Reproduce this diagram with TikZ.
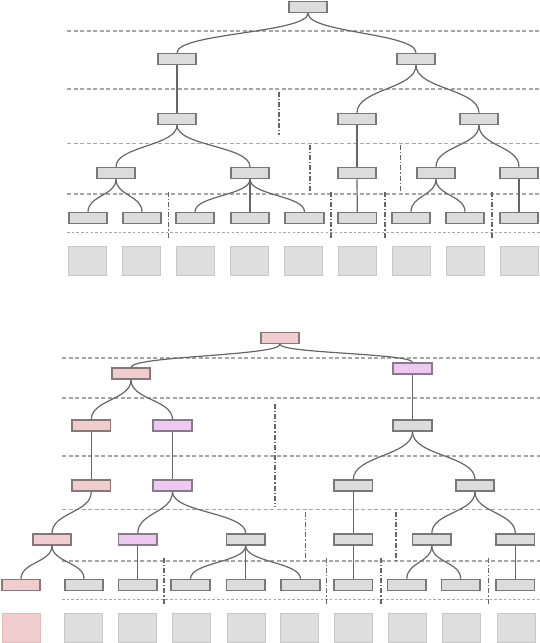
\documentclass[tikz,border=0pt]{standalone}
\usetikzlibrary{calc}
\definecolor{nodefill}{HTML}{DCDCDC}
\definecolor{nodeline}{HTML}{787878}
\definecolor{pinkfill}{HTML}{F0CCCE}
\definecolor{pinkline}{HTML}{887779}
\definecolor{violetfill}{HTML}{EEC8F0}
\definecolor{violetline}{HTML}{887A88}
\definecolor{sqfill}{HTML}{DEDEDE}
\definecolor{sqline}{HTML}{C8C8C8}
\definecolor{psqfill}{HTML}{F2CDCE}
\definecolor{psqline}{HTML}{E0BBBC}
\definecolor{guide}{HTML}{A6A6A6}
\definecolor{sepc}{HTML}{666666}
\definecolor{edgec}{HTML}{666666}
\begin{document}
\begin{tikzpicture}[x=1pt,y=-1pt,
 nd/.style={rectangle,draw=nodeline,fill=nodefill,line width=1.7pt,minimum width=38.5pt,minimum height=10.8pt,inner sep=0pt},
 ndp/.style={nd,draw=pinkline,fill=pinkfill},
 ndv/.style={nd,draw=violetline,fill=violetfill},
 sq/.style={rectangle,draw=sqline,fill=sqfill,line width=0.9pt,minimum width=38pt,minimum height=29pt,inner sep=0pt},
 sqp/.style={sq,draw=psqline,fill=psqfill},
 guideline/.style={draw=guide,line width=1.6pt,dash pattern=on 4pt off 2.5pt},
 guidefine/.style={draw=guide,line width=1.5pt,dash pattern=on 2.5pt off 2.2pt},
 sepline/.style={draw=sepc,line width=1.1pt,dash pattern=on 5pt off 2pt on 1.2pt off 2pt},
 edg/.style={draw=edgec,line width=1.2pt},
 sc/.style={to path={.. controls ($(\tikztostart)!0.5!(\tikztostart|-\tikztotarget)$) and ($(\tikztotarget)!0.5!(\tikztotarget|-\tikztostart)$) .. (\tikztotarget)}}
]
\useasboundingbox (0,0) rectangle (540,643);

% ---------- guide lines (top) ----------
\foreach \yy in {30.7,89,143.3,194} \draw[guideline] (67,\yy) -- (540,\yy);
\draw[guidefine] (67,232.7) -- (540,232.7);
\draw[sepline] (279,92) -- (279,135);
\foreach \xx in {310,400.3} \draw[sepline] (\xx,145) -- (\xx,192.7);
\foreach \xx in {168.3,331,385,492} \draw[sepline] (\xx,191.7) -- (\xx,237.7);

% ---------- guide lines (bottom) ----------
\foreach \yy in {357.7,397.7,455.7,509.3,560.7} \draw[guideline] (62,\yy) -- (540,\yy);
\draw[guidefine] (62,599.3) -- (540,599.3);
\draw[sepline] (275,404) -- (275,507);
\foreach \xx in {305.7,396} \draw[sepline] (\xx,512) -- (\xx,560);
\foreach \xx in {164,326.7,381,488.3} \draw[sepline] (\xx,557.7) -- (\xx,605);

% ---------- top tree ----------
\node[nd] (t0) at (308,7) {};
\node[nd] (t1) at (177,59) {};
\node[nd] (t2) at (416,59) {};
\node[nd] (t11) at (177,119) {};
\node[nd] (t21) at (357,119) {};
\node[nd] (t22) at (479,119) {};
\node[nd] (t111) at (116,173) {};
\node[nd] (t112) at (250,173) {};
\node[nd] (t211) at (357,173) {};
\node[nd] (t221) at (436,173) {};
\node[nd] (t222) at (519,173) {};
\foreach \n/\xx in {1/88,2/142,3/195,4/250,5/304.5,6/357.3,7/411,8/465,9/519}
  \node[nd] (la\n) at (\xx,218) {};
\foreach \n/\xx in {1/87.7,2/141.7,3/195.7,4/249.7,5/303.5,6/357.8,7/411.7,8/465.7,9/519.7}
  \node[sq] (sa\n) at (\xx,261) {};

\draw[edg] (t0.south) to[sc] (t1.north);
\draw[edg] (t0.south) to[sc] (t2.north);
\draw[edg] (t1.south) to[sc] (t11.north);
\draw[edg] (t2.south) to[sc] (t21.north);
\draw[edg] (t2.south) to[sc] (t22.north);
\draw[edg] (t11.south) to[sc] (t111.north);
\draw[edg] (t11.south) to[sc] (t112.north);
\draw[edg] (t21.south) to[sc] (t211.north);
\draw[edg] (t22.south) to[sc] (t221.north);
\draw[edg] (t22.south) to[sc] (t222.north);
\draw[edg] (t111.south) to[sc] (la1.north);
\draw[edg] (t111.south) to[sc] (la2.north);
\draw[edg] (t112.south) to[sc] (la3.north);
\draw[edg] (t112.south) to[sc] (la4.north);
\draw[edg] (t112.south) to[sc] (la5.north);
\draw[edg] (t211.south) to[sc] (la6.north);
\draw[edg] (t221.south) to[sc] (la7.north);
\draw[edg] (t221.south) to[sc] (la8.north);
\draw[edg] (t222.south) to[sc] (la9.north);

% ---------- bottom tree ----------
\node[ndp] (b0) at (280,338) {};
\node[ndp] (b1) at (131,373.7) {};
\node[ndv] (b2) at (412.5,368.7) {};
\node[ndp] (b11) at (91.3,425.7) {};
\node[ndv] (b12) at (172.5,425.7) {};
\node[nd] (b21) at (412.5,425.7) {};
\node[ndp] (b111) at (91.3,485.6) {};
\node[ndv] (b121) at (172.5,485.6) {};
\node[nd] (b211) at (353.3,485.6) {};
\node[nd] (b212) at (475,485.6) {};
\node[ndp] (b1111) at (52,539.5) {};
\node[ndv] (b1211) at (137.8,539.5) {};
\node[nd] (b1212) at (245.7,539.5) {};
\node[nd] (b2111) at (353.3,539.5) {};
\node[nd] (b2121) at (431.8,539.5) {};
\node[nd] (b2122) at (515.3,539.5) {};
\node[ndp] (c1) at (21,585) {};
\foreach \n/\xx in {2/84,3/137.8,4/190.5,5/245.7,6/300.5,7/353.3,8/406.8,9/460.7,10/515.3}
  \node[nd] (c\n) at (\xx,585) {};
\node[sqp] (s1) at (21,628) {};
\foreach \n/\xx in {2/83.5,3/137.5,4/191.5,5/246,6/299.3,7/353.7,8/407.7,9/461.7,10/516}
  \node[sq] (s\n) at (\xx,628) {};

\draw[edg] (b0.south) to[sc] (b1.north);
\draw[edg] (b0.south) to[sc] (b2.north);
\draw[edg] (b1.south) to[sc] (b11.north);
\draw[edg] (b1.south) to[sc] (b12.north);
\draw[edg] (b2.south) to[sc] (b21.north);
\draw[edg] (b11.south) to[sc] (b111.north);
\draw[edg] (b12.south) to[sc] (b121.north);
\draw[edg] (b21.south) to[sc] (b211.north);
\draw[edg] (b21.south) to[sc] (b212.north);
\draw[edg] (b111.south) to[sc] (b1111.north);
\draw[edg] (b121.south) to[sc] (b1211.north);
\draw[edg] (b121.south) to[sc] (b1212.north);
\draw[edg] (b211.south) to[sc] (b2111.north);
\draw[edg] (b212.south) to[sc] (b2121.north);
\draw[edg] (b212.south) to[sc] (b2122.north);
\draw[edg] (b1111.south) to[sc] (c1.north);
\draw[edg] (b1111.south) to[sc] (c2.north);
\draw[edg] (b1211.south) to[sc] (c3.north);
\draw[edg] (b1212.south) to[sc] (c4.north);
\draw[edg] (b1212.south) to[sc] (c5.north);
\draw[edg] (b1212.south) to[sc] (c6.north);
\draw[edg] (b2111.south) to[sc] (c7.north);
\draw[edg] (b2121.south) to[sc] (c8.north);
\draw[edg] (b2121.south) to[sc] (c9.north);
\draw[edg] (b2122.south) to[sc] (c10.north);
\end{tikzpicture}
\end{document}
